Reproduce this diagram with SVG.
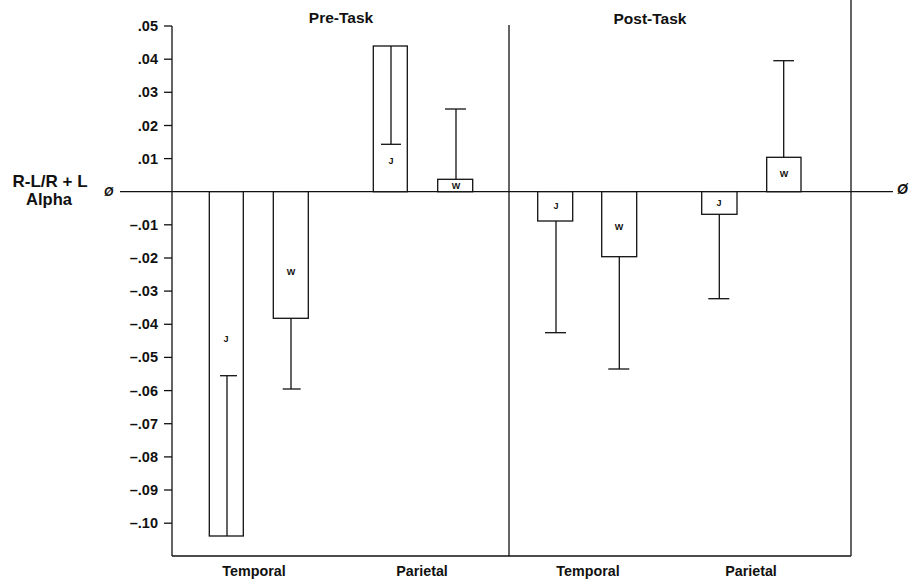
<svg xmlns="http://www.w3.org/2000/svg" width="912" height="582" viewBox="0 0 912 582">
<style>
.ln{stroke:#111;stroke-width:1.3;fill:none}
.bar{stroke:#111;stroke-width:1.3;fill:#fff}
.t{font-family:"Liberation Sans",Arial,sans-serif;font-weight:bold;fill:#111}
.tick{font-size:14.5px;text-anchor:end}
.cat{font-size:14.3px;text-anchor:middle}
.hd{font-size:15.5px;text-anchor:middle}
.bl{font-size:9px;text-anchor:middle}
.z{font-family:"Liberation Sans",Arial,sans-serif;font-weight:bold;font-style:italic;fill:#111;font-size:12px}
</style>
<rect width="912" height="582" fill="#fff"/>
<g id="axes">
<line class="ln" x1="172" y1="26" x2="172" y2="556"/>
<line class="ln" x1="172" y1="556" x2="851" y2="556"/>
<line class="ln" x1="509" y1="25" x2="509" y2="556"/>
<line class="ln" x1="851" y1="0" x2="851" y2="556"/>
<line class="ln" x1="120" y1="191.7" x2="893" y2="191.7"/>
<g class="ln">
<line x1="164" y1="26" x2="172" y2="26"/>
<line x1="164" y1="59.2" x2="172" y2="59.2"/>
<line x1="164" y1="92.3" x2="172" y2="92.3"/>
<line x1="164" y1="125.5" x2="172" y2="125.5"/>
<line x1="164" y1="158.6" x2="172" y2="158.6"/>
<line x1="164" y1="224.8" x2="172" y2="224.8"/>
<line x1="164" y1="258" x2="172" y2="258"/>
<line x1="164" y1="291.1" x2="172" y2="291.1"/>
<line x1="164" y1="324.3" x2="172" y2="324.3"/>
<line x1="164" y1="357.4" x2="172" y2="357.4"/>
<line x1="164" y1="390.6" x2="172" y2="390.6"/>
<line x1="164" y1="423.7" x2="172" y2="423.7"/>
<line x1="164" y1="456.9" x2="172" y2="456.9"/>
<line x1="164" y1="490" x2="172" y2="490"/>
<line x1="164" y1="523.2" x2="172" y2="523.2"/>
</g>
<g class="t tick">
<text x="158" y="31">.05</text>
<text x="158" y="64.2">.04</text>
<text x="158" y="97.3">.03</text>
<text x="158" y="130.5">.02</text>
<text x="158" y="163.6">.01</text>
<text x="158" y="229.8">–.01</text>
<text x="158" y="263">–.02</text>
<text x="158" y="296.1">–.03</text>
<text x="158" y="329.3">–.04</text>
<text x="158" y="362.4">–.05</text>
<text x="158" y="395.6">–.06</text>
<text x="158" y="428.7">–.07</text>
<text x="158" y="461.9">–.08</text>
<text x="158" y="495">–.09</text>
<text x="158" y="528.2">–.10</text>
</g>
<text class="z" x="104" y="196">Ø</text>
<text class="z" x="897" y="194" style="font-size:14px">Ø</text>
<text class="t" x="50" y="187" style="font-size:17px;text-anchor:middle">R-L/R + L</text>
<text class="t" x="49" y="205" style="font-size:16.5px;text-anchor:middle">Alpha</text>
<text class="t hd" x="341" y="23">Pre-Task</text>
<text class="t hd" x="650" y="24">Post-Task</text>
<text class="t cat" x="254" y="576">Temporal</text>
<text class="t cat" x="422" y="576">Parietal</text>
<text class="t cat" x="588" y="576">Temporal</text>
<text class="t cat" x="751" y="576">Parietal</text>
</g>
<g id="pre-temporal-J">
<rect class="bar" x="209.3" y="191.7" width="34" height="344.3"/>
<line class="ln" x1="227" y1="536" x2="227" y2="375.7"/>
<line class="ln" x1="220" y1="375.7" x2="237" y2="375.7"/>
<text class="t bl" x="226" y="342">J</text>
</g>
<g id="pre-temporal-W">
<rect class="bar" x="273.3" y="191.7" width="35" height="126.6"/>
<line class="ln" x1="291" y1="318.3" x2="291" y2="389"/>
<line class="ln" x1="282.7" y1="389" x2="300.7" y2="389"/>
<text class="t bl" x="291" y="275">W</text>
</g>
<g id="pre-parietal-J">
<rect class="bar" x="373.3" y="46" width="34" height="145.7"/>
<line class="ln" x1="391" y1="46" x2="391" y2="144.3"/>
<line class="ln" x1="381" y1="144.3" x2="401" y2="144.3"/>
<text class="t bl" x="391" y="164">J</text>
</g>
<g id="pre-parietal-W">
<rect class="bar" x="437.7" y="179.3" width="35" height="12.4"/>
<line class="ln" x1="456" y1="179.3" x2="456" y2="109"/>
<line class="ln" x1="445" y1="109" x2="466" y2="109"/>
<text class="t bl" x="456" y="189">W</text>
</g>
<g id="post-temporal-J">
<rect class="bar" x="537.7" y="191.7" width="35" height="29.3"/>
<line class="ln" x1="556" y1="221" x2="556" y2="332.7"/>
<line class="ln" x1="545" y1="332.7" x2="566" y2="332.7"/>
<text class="t bl" x="556" y="209">J</text>
</g>
<g id="post-temporal-W">
<rect class="bar" x="601.7" y="191.7" width="35" height="65"/>
<line class="ln" x1="619.3" y1="256.7" x2="619.3" y2="369"/>
<line class="ln" x1="608.3" y1="369" x2="629.3" y2="369"/>
<text class="t bl" x="619" y="230">W</text>
</g>
<g id="post-parietal-J">
<rect class="bar" x="701.7" y="191.7" width="35.3" height="22.6"/>
<line class="ln" x1="719.3" y1="214.3" x2="719.3" y2="298.7"/>
<line class="ln" x1="708.3" y1="298.7" x2="729.3" y2="298.7"/>
<text class="t bl" x="719" y="206">J</text>
</g>
<g id="post-parietal-W">
<rect class="bar" x="766.7" y="157.3" width="34.3" height="34.4"/>
<line class="ln" x1="783.7" y1="157.3" x2="783.7" y2="60.7"/>
<line class="ln" x1="773.3" y1="60.7" x2="794" y2="60.7"/>
<text class="t bl" x="784" y="177">W</text>
</g>
</svg>
